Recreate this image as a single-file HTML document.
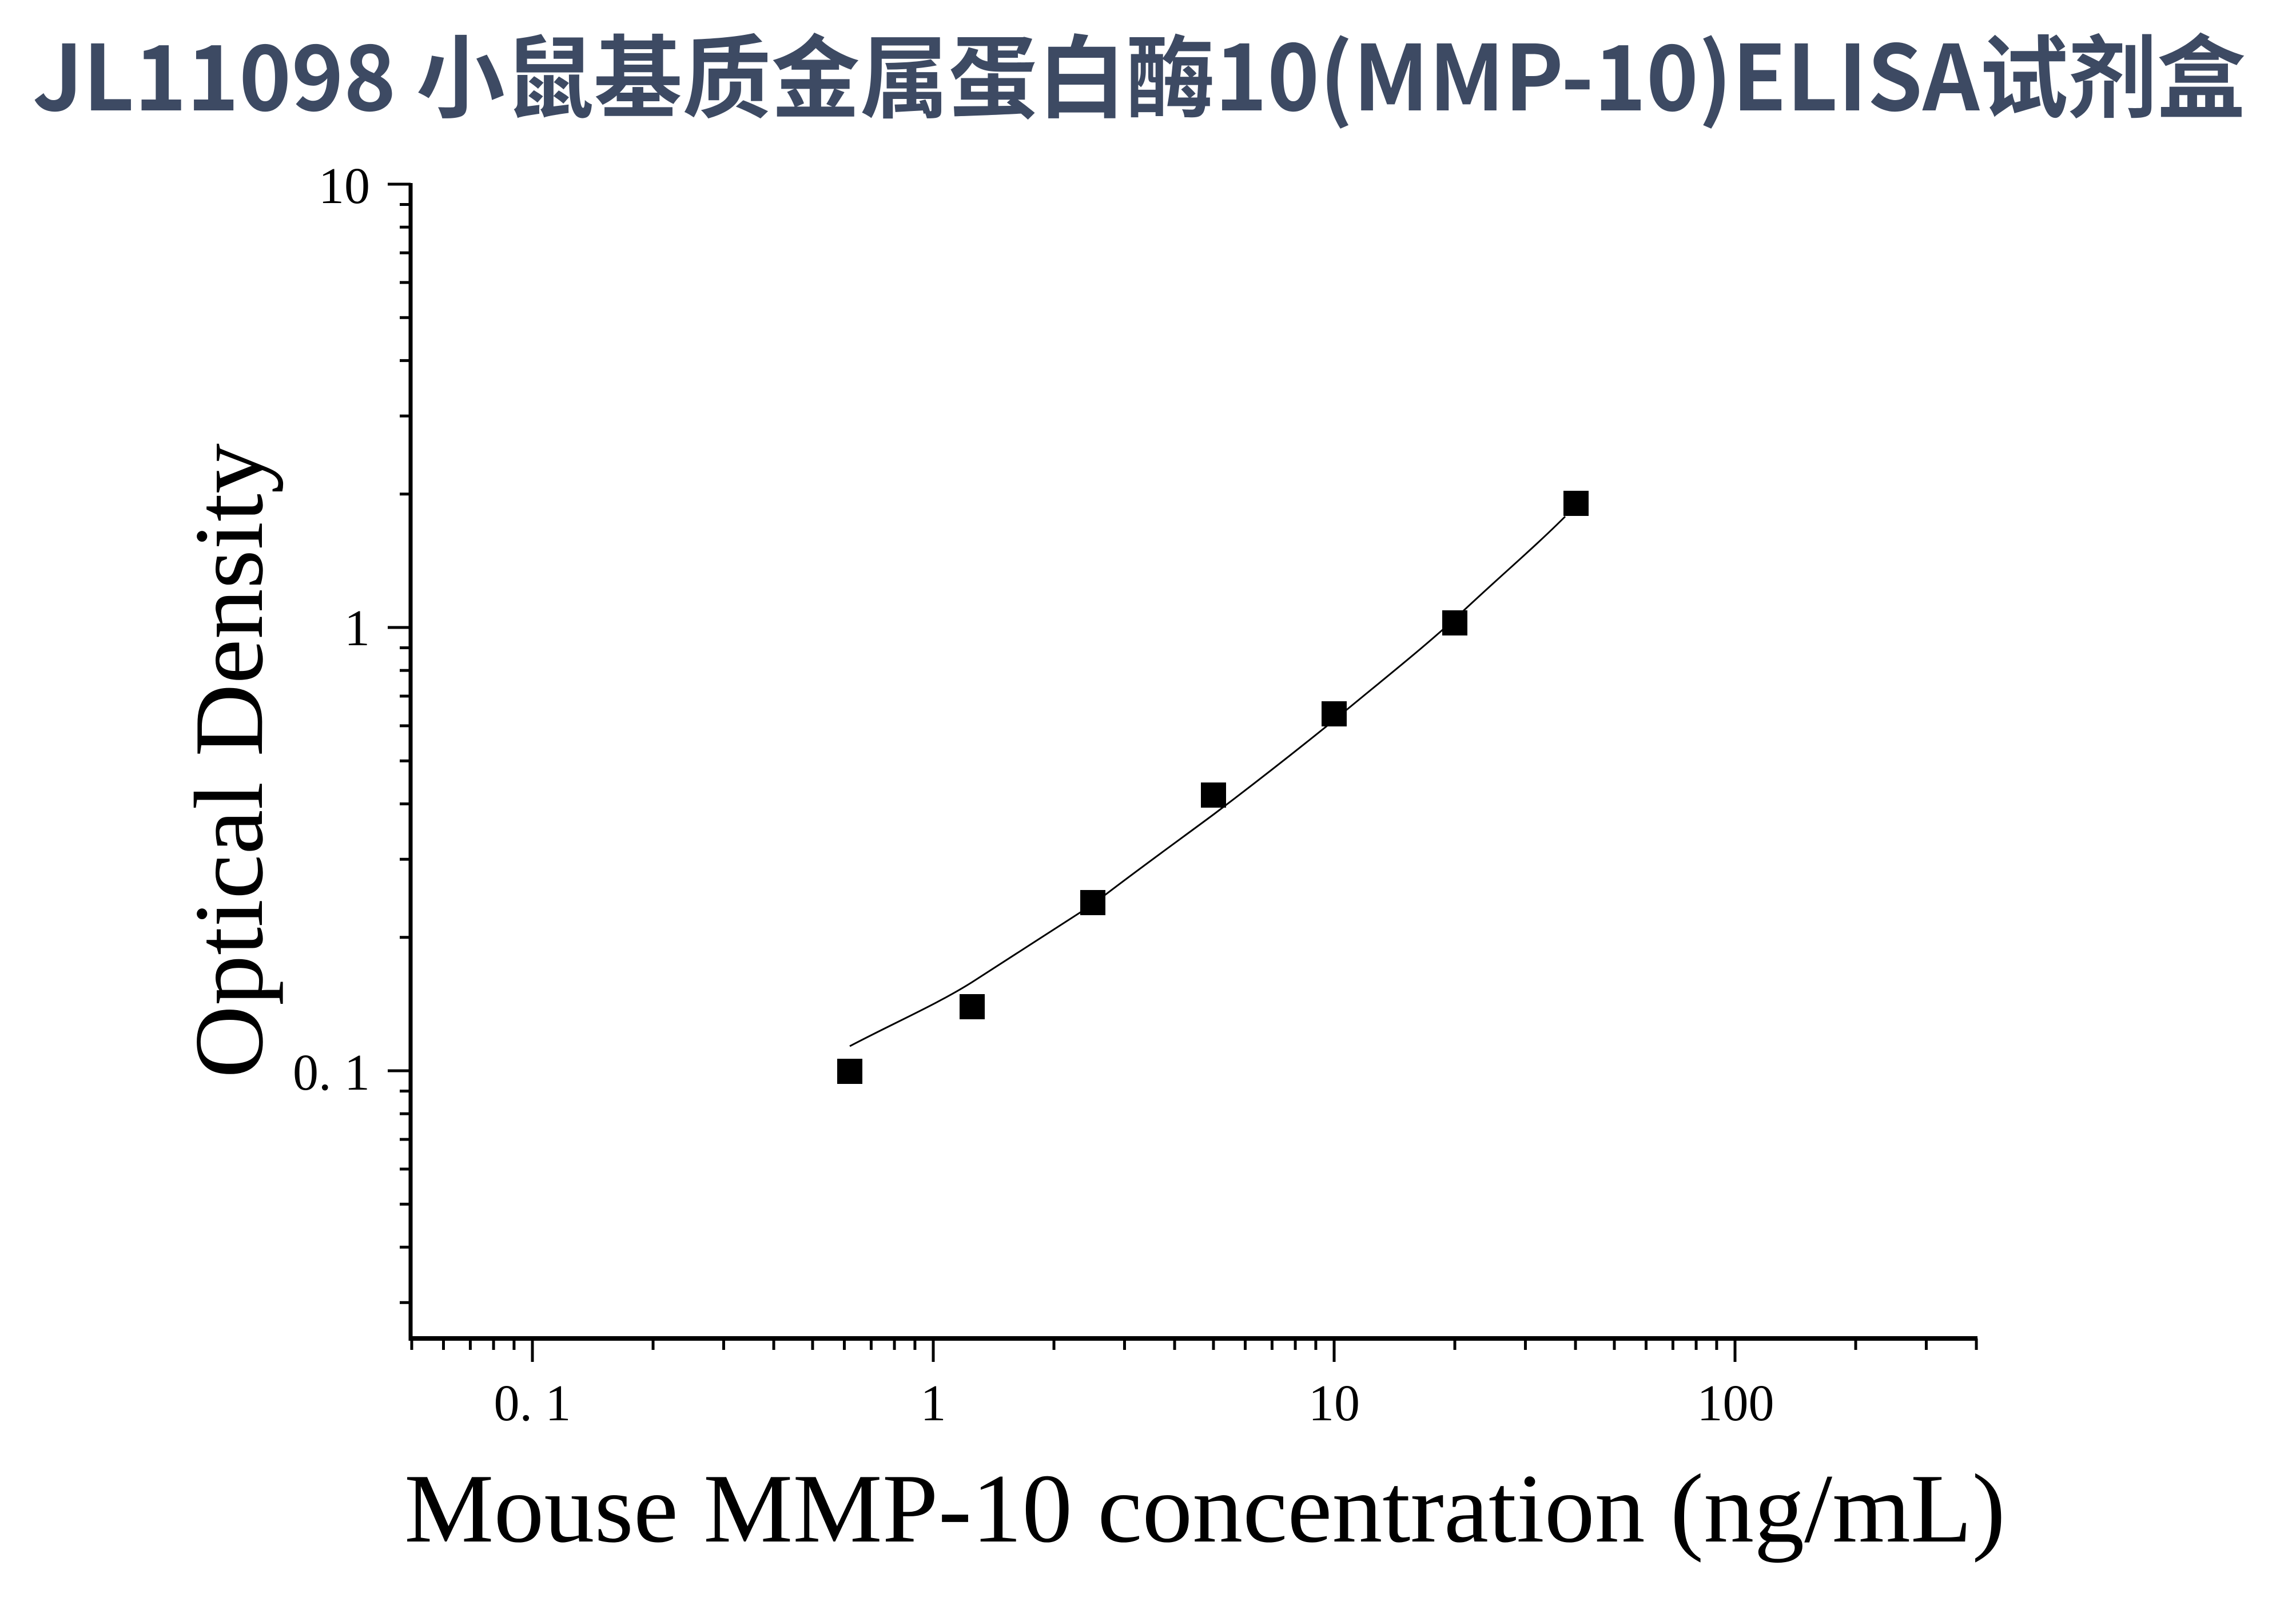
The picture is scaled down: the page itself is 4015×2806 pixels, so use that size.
<!DOCTYPE html>
<html><head><meta charset="utf-8"><style>html,body{margin:0;padding:0;background:#fff;}svg{display:block}</style></head>
<body>
<svg width="4015" height="2806" viewBox="0 0 4015 2806" xmlns="http://www.w3.org/2000/svg">
<rect width="4015" height="2806" fill="#fff"/>
<text x="57" y="193" font-family="'Noto Sans CJK SC', sans-serif" font-weight="bold" font-size="158" fill="#3d4a63" textLength="3870" lengthAdjust="spacingAndGlyphs">JL11098 小鼠基质金属蛋白酶10(MMP-10)ELISA试剂盒</text>
<g stroke="#000" fill="none">
<line x1="718" y1="320" x2="718" y2="2344" stroke-width="7"/>
<line x1="715" y1="2340" x2="3458" y2="2340" stroke-width="8"/>
<g id="yt" stroke-width="5"></g>
<g id="xt" stroke-width="5"></g>
<path d="M1486,1829 C1560,1790 1640,1755 1700,1717 C1780,1665 1850,1620 1911,1581 C1990,1520 2060,1470 2122,1424 C2200,1365 2270,1310 2333,1259 C2410,1195 2480,1140 2544,1082 C2620,1010 2680,960 2737,903" stroke-width="3"/>
</g>
<g fill="#000">
<rect x="1464" y="1851" width="44" height="44"/>
<rect x="1678" y="1738" width="44" height="44"/>
<rect x="1889" y="1556" width="44" height="44"/>
<rect x="2100" y="1368" width="44" height="44"/>
<rect x="2311" y="1226" width="44" height="44"/>
<rect x="2522" y="1067" width="44" height="44"/>
<rect x="2734" y="858" width="44" height="44"/>
</g>
<g font-family="'Liberation Serif', serif" font-size="90" fill="#000">
<text x="647" y="355" text-anchor="end">10</text>
<text x="647" y="1128" text-anchor="end">1</text>
<text x="647" y="1905" text-anchor="end">0. 1</text>
<text x="931" y="2483" text-anchor="middle">0. 1</text>
<text x="1632" y="2483" text-anchor="middle">1</text>
<text x="2333" y="2483" text-anchor="middle">10</text>
<text x="3035" y="2483" text-anchor="middle">100</text>
</g>
<text x="707" y="2695" font-family="'Liberation Serif', serif" font-size="172" fill="#000" textLength="2800" lengthAdjust="spacingAndGlyphs">Mouse MMP-10 concentration (ng/mL)</text>
<text transform="translate(458,1330) rotate(-90)" x="0" y="0" text-anchor="middle" font-family="'Liberation Serif', serif" font-size="172" fill="#000" textLength="1110" lengthAdjust="spacingAndGlyphs">Optical Density</text>
<script>
(function(){
var ns="http://www.w3.org/2000/svg";
var yt=document.getElementById("yt"),xt=document.getElementById("xt");
function ln(g,a,b,c,d){var l=document.createElementNS(ns,"line");l.setAttribute("x1",a);l.setAttribute("y1",b);l.setAttribute("x2",c);l.setAttribute("y2",d);g.appendChild(l);}
for(var e=-2;e<=1;e++){for(var m=1;m<=9;m++){var v=m*Math.pow(10,e);if(v<0.0249||v>10.01)continue;var y=1097-775*Math.log10(v);ln(yt,m==1?678:699,y,718,y);}}
for(var e=-2;e<=3;e++){for(var m=1;m<=9;m++){var v=m*Math.pow(10,e);var x=1632+701*Math.log10(v);if(x<717||x>3460)continue;ln(xt,x,2340,x,m==1?2381:2360);}}
})();
</script>
</svg>
</body></html>
